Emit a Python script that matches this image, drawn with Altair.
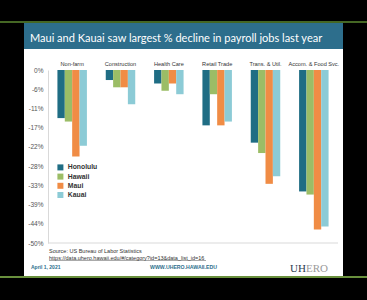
import altair as alt
import pandas as pd

categories = ["Non-farm", "Construction", "Health Care", "Retail Trade", "Trans. & Util.", "Accom. & Food Svc."]
islands = ["Honolulu", "Hawaii", "Maui", "Kauai"]
honolulu = [-13.9, -2.9, -3.9, -16.0, -21.0, -35.1]
hawaii = [-14.9, -5.0, -6.0, -7.0, -24.0, -36.0]
maui = [-25.0, -5.0, -3.9, -16.0, -32.9, -46.1]
kauai = [-21.9, -9.9, -7.0, -14.9, -30.7, -45.2]
colors = ["#1f6d84", "#9bbd66", "#f08c45", "#8ccbd6"]
tick_values = [-50 * i / 9 for i in range(10)]

title_text = "Maui and Kauai saw largest % decline in payroll jobs last year"
source_text = "Source: US Bureau of Labor Statistics"
url_text = "https://data.uhero.hawaii.edu/#/category?id=13&data_list_id=16"
date_text = "April 1, 2021"
web_text = "WWW.UHERO.HAWAII.EDU"

rows = []
for s, vals in zip(islands, [honolulu, hawaii, maui, kauai]):
    for c, v in zip(categories, vals):
        rows.append({"category": c, "island": s, "value": v})
df = pd.DataFrame(rows)

one = pd.DataFrame({"a": [0]})
base = alt.Chart(one)

slide = base.mark_rect(color="white").encode(
    x=alt.value(-24), x2=alt.value(295), y=alt.value(-21), y2=alt.value(206))
banner = base.mark_rect(color="#2d6e8c").encode(
    x=alt.value(-24), x2=alt.value(295), y=alt.value(-47), y2=alt.value(-21))
green_top = base.mark_rule(color="#5c8a30", strokeWidth=1.5).encode(
    x=alt.value(-48), x2=alt.value(319), y=alt.value(-48))
green_bot = base.mark_rule(color="#8cc152", strokeWidth=1.5).encode(
    x=alt.value(-48), x2=alt.value(319), y=alt.value(207))
title = base.mark_text(text=title_text, color="white", fontSize=11, font="Lato",
                       align="left", baseline="alphabetic").encode(
    x=alt.value(-18), y=alt.value(-28))
source = base.mark_text(text=source_text, color="#333333", fontSize=5.5, font="Liberation Sans",
                        align="left", baseline="alphabetic").encode(
    x=alt.value(1), y=alt.value(183))
url = base.mark_text(text=url_text, color="#333333", fontSize=5.5, font="Liberation Sans",
                     align="left", baseline="alphabetic").encode(
    x=alt.value(1), y=alt.value(189.5))
url_line = base.mark_rule(color="#555555", strokeWidth=0.5).encode(
    x=alt.value(1), x2=alt.value(158), y=alt.value(190.5))
date = base.mark_text(text=date_text, color="#2d6e8c", fontSize=5, font="Liberation Sans",
                      fontWeight="bold", align="left", baseline="alphabetic").encode(
    x=alt.value(-17), y=alt.value(199))
web = base.mark_text(text=web_text, color="#2d6e8c", fontSize=5.2, font="Liberation Sans",
                     fontWeight="bold", align="center", baseline="alphabetic").encode(
    x=alt.value(135.5), y=alt.value(199))
uh = base.mark_text(text="UH", color="#2a3a4e", fontSize=11, font="Liberation Serif",
                    align="right", baseline="alphabetic").encode(
    x=alt.value(258), y=alt.value(202))
ero = base.mark_text(text="ERO", color="#9a9a9a", fontSize=11, font="Liberation Serif",
                     align="left", baseline="alphabetic").encode(
    x=alt.value(258), y=alt.value(202))
baseline = base.mark_rule(color="#d9d9d9").encode(
    y=alt.value(173), x=alt.value(0), x2=alt.value(290))

bars = alt.Chart(df).mark_bar().encode(
    x=alt.X("category:N", sort=categories,
            scale=alt.Scale(paddingInner=0.39, paddingOuter=0.195),
            axis=alt.Axis(orient="top", title=None, ticks=False, domain=False, labelAngle=0,
                          labelFontSize=5.6, labelColor="#333333", labelFont="Liberation Sans",
                          labelPadding=4, labelOverlap=False, zindex=1)),
    xOffset=alt.XOffset("island:N", sort=islands),
    y=alt.Y("value:Q", scale=alt.Scale(domain=[-50, 0], nice=False, zero=False),
            axis=alt.Axis(title=None, values=tick_values, labelExpr="round(datum.value) + '%'",
                          ticks=False, grid=False, domainColor="#d9d9d9", labelColor="#555555",
                          labelFontSize=6.5, labelFont="Liberation Sans", labelPadding=5,
                          labelOverlap=False, labelBound=False, zindex=1)),
    y2=alt.datum(0),
    color=alt.Color("island:N", sort=islands,
                    scale=alt.Scale(domain=islands, range=colors),
                    legend=alt.Legend(orient="none", legendX=9, legendY=94, title=None,
                                      symbolType="square", symbolSize=36, symbolStrokeWidth=0,
                                      labelFontSize=6.8, labelFontWeight="bold", labelColor="#333333",
                                      labelFont="Liberation Sans", rowPadding=1.2, padding=0)),
)

chart = alt.layer(
    green_top, green_bot, slide, banner, title, source, url, url_line, date, web, uh, ero,
    baseline, bars
).properties(
    width=290, height=173,
    padding={"left": 48, "top": 70, "right": 29, "bottom": 57},
    autosize=alt.AutoSizeParams(type="none"),
    background="black",
).configure_view(stroke=None)

chart.save("out.html", embed_options={"renderer": "svg", "actions": False})
